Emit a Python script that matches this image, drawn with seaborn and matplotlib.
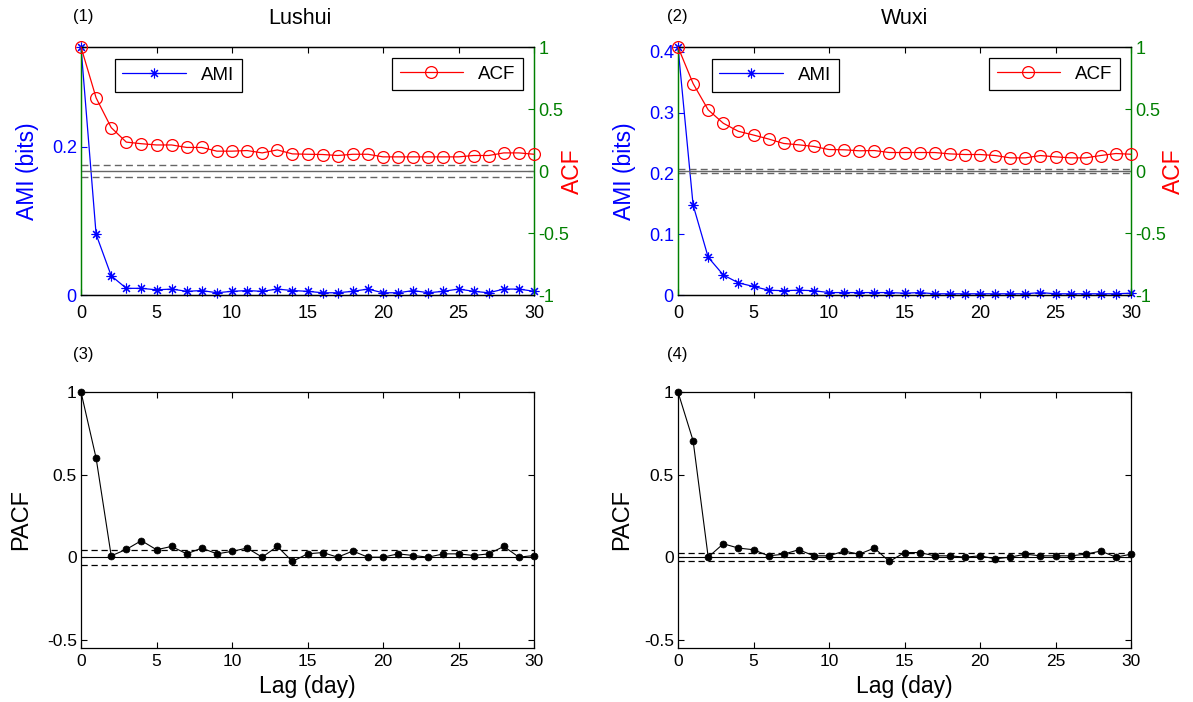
import matplotlib.pyplot as plt
import pandas as pd
import seaborn as sns
from matplotlib.ticker import FormatStrFormatter

# Data
lags = list(range(31))

lushui_ami = [0.335, 0.082, 0.026, 0.009, 0.009, 0.007, 0.008, 0.005, 0.006, 0.003, 0.005,
              0.006, 0.005, 0.008, 0.006, 0.005, 0.003, 0.003, 0.005, 0.008, 0.003, 0.003,
              0.006, 0.003, 0.005, 0.008, 0.005, 0.003, 0.008, 0.008, 0.005]
lushui_acf = [1.0, 0.59, 0.35, 0.233, 0.22, 0.21, 0.21, 0.19, 0.19, 0.16, 0.16,
              0.165, 0.146, 0.17, 0.138, 0.135, 0.133, 0.125, 0.135, 0.135, 0.114, 0.114,
              0.114, 0.114, 0.114, 0.114, 0.125, 0.125, 0.146, 0.146, 0.135]
lushui_acf_sig = 0.049
lushui_pacf = [1.0, 0.60, 0.008, 0.047, 0.10, 0.045, 0.065, 0.02, 0.055, 0.02, 0.035,
               0.055, 0.0, 0.065, -0.026, 0.02, 0.028, 0.0, 0.037, 0.0, 0.0, 0.02,
               0.01, 0.0, 0.02, 0.02, 0.01, 0.02, 0.065, 0.0, 0.01]
lushui_pacf_sig = 0.046

wuxi_ami = [0.408, 0.148, 0.062, 0.033, 0.020, 0.014, 0.008, 0.007, 0.008, 0.007, 0.004,
            0.004, 0.004, 0.004, 0.004, 0.003, 0.004, 0.002, 0.002, 0.002, 0.002, 0.002,
            0.002, 0.002, 0.004, 0.002, 0.002, 0.002, 0.002, 0.002, 0.003]
wuxi_acf = [1.0, 0.705, 0.493, 0.385, 0.32, 0.29, 0.258, 0.222, 0.211, 0.198, 0.173,
            0.171, 0.163, 0.165, 0.149, 0.149, 0.149, 0.149, 0.138, 0.133, 0.133, 0.125,
            0.106, 0.106, 0.125, 0.114, 0.106, 0.106, 0.125, 0.141, 0.135]
wuxi_acf_sig = 0.019
wuxi_pacf = [1.0, 0.705, 0.0, 0.081, 0.055, 0.045, 0.008, 0.018, 0.045, 0.008, 0.008,
             0.037, 0.018, 0.055, -0.026, 0.028, 0.028, 0.008, 0.008, 0.0, 0.008, -0.01,
             0.0, 0.018, 0.008, 0.008, 0.008, 0.018, 0.037, 0.0, 0.018]
wuxi_pacf_sig = 0.023

sites = ['Lushui', 'Wuxi']
ami_top = [0.335, 0.408]
ami_ticks = [[0, 0.2], [0, 0.1, 0.2, 0.3, 0.4]]
acf_ticks = [-1, -0.5, 0, 0.5, 1]
pacf_ticks = [-0.5, 0, 0.5, 1]
x_ticks = [0, 5, 10, 15, 20, 25, 30]

sns.set_style('ticks', {'xtick.direction': 'in', 'ytick.direction': 'in'})
plt.rcParams['font.family'] = ['Liberation Sans', 'DejaVu Sans']
plt.rcParams['text.color'] = 'black'
plt.rcParams['axes.labelcolor'] = 'black'
plt.rcParams['xtick.color'] = 'black'
plt.rcParams['ytick.color'] = 'black'

GREEN = (0, 0.5, 0)
W, H = 1193, 702

fig = plt.figure(figsize=(W / 100, H / 100), dpi=100)
col_x = [81 / W, 678 / W]
col_w = 453 / W
top_box = (1 - 295 / H, 248 / H)
bot_box = (1 - 648 / H, 256 / H)
title_x = [300 / W, 905 / W]
num_x = [83 / W, 677 / W]
acf_label_x = [1.06, 1.069]
pacf_label_x = [-0.108, -0.099]

top_data = [(lushui_ami, lushui_acf, lushui_acf_sig), (wuxi_ami, wuxi_acf, wuxi_acf_sig)]
bottom_data = [(lushui_pacf, lushui_pacf_sig), (wuxi_pacf, wuxi_pacf_sig)]

for i in range(2):
    ami, acf, sig = top_data[i]
    df = pd.DataFrame({'lag': lags, 'ami': ami, 'acf': acf})

    # Top row: AMI (left axis) and ACF (right axis)
    ax = fig.add_axes([col_x[i], top_box[0], col_w, top_box[1]])
    ax2 = ax.twinx()
    sns.lineplot(data=df, x='lag', y='ami', ax=ax, color='blue', lw=0.9,
                 marker=(8, 2, 0), markersize=7, markeredgecolor='blue',
                 markeredgewidth=0.8, label='AMI', legend=False, clip_on=False, zorder=3)
    ax2.axhline(0, color='0.4', lw=1)
    ax2.axhline(sig, color='0.4', lw=1, ls=(0, (5, 3)))
    ax2.axhline(-sig, color='0.4', lw=1, ls=(0, (5, 3)))
    sns.lineplot(data=df, x='lag', y='acf', ax=ax2, color='red', lw=0.9,
                 marker='o', markersize=8.5, markerfacecolor='none',
                 markeredgecolor='red', markeredgewidth=0.9, label='ACF', legend=False,
                 clip_on=False, zorder=3)

    ax.set_xlim(0, 30)
    ax.set_ylim(0, ami_top[i])
    ax2.set_ylim(-1, 1)
    ax.set_xticks(x_ticks)
    ax.set_yticks(ami_ticks[i])
    ax2.set_yticks(acf_ticks)
    ax.yaxis.set_major_formatter(FormatStrFormatter('%g'))
    ax2.yaxis.set_major_formatter(FormatStrFormatter('%g'))
    ax.tick_params(axis='x', top=True, colors='black', labelsize=13, length=4, pad=7)
    ax.tick_params(axis='y', colors='blue', labelsize=13, length=4, pad=3)
    ax2.tick_params(axis='y', colors=GREEN, labelsize=13, length=4, pad=3)
    ax.set_xlabel('')
    ax.set_ylabel('AMI (bits)', color='blue', fontsize=16.5)
    ax.yaxis.set_label_coords(-0.093, 0.5)
    ax2.set_ylabel('ACF', color='red', fontsize=16.5)
    ax2.yaxis.set_label_coords(acf_label_x[i], 0.5)
    for a in (ax, ax2):
        for s in a.spines.values():
            s.set_visible(True)
            s.set_linewidth(0.9)
        a.spines['top'].set_color('black')
        a.spines['bottom'].set_color('black')
        a.spines['left'].set_color(GREEN)
        a.spines['right'].set_color(GREEN)

    h_ami = ax.get_lines()[0]
    h_acf = ax2.get_lines()[-1]
    leg1 = ax2.legend([h_ami], ['AMI'], loc='upper left', bbox_to_anchor=(0.075, 0.95),
                      fancybox=False, edgecolor='black', framealpha=1, fontsize=13.5,
                      handlelength=3.4, borderpad=0.4, borderaxespad=0)
    leg1.get_frame().set_linewidth(0.9)
    ax2.add_artist(leg1)
    leg2 = ax2.legend([h_acf], ['ACF'], loc='upper right', bbox_to_anchor=(0.976, 0.955),
                      fancybox=False, edgecolor='black', framealpha=1, fontsize=13.5,
                      handlelength=3.4, borderpad=0.4, borderaxespad=0)
    leg2.get_frame().set_linewidth(0.9)

    fig.text(title_x[i], 1 - 18 / H, sites[i], fontsize=15.5, ha='center', va='center')
    fig.text(num_x[i], 1 - 17 / H, '(%d)' % (i + 1), fontsize=12, ha='center', va='center')

    # Bottom row: PACF
    pacf, psig = bottom_data[i]
    dfp = pd.DataFrame({'lag': lags, 'pacf': pacf})
    bx = fig.add_axes([col_x[i], bot_box[0], col_w, bot_box[1]])
    bx.axhline(0, color='black', lw=0.8)
    bx.axhline(psig, color='black', lw=0.9, ls=(0, (5, 3)))
    bx.axhline(-psig, color='black', lw=0.9, ls=(0, (5, 3)))
    sns.lineplot(data=dfp, x='lag', y='pacf', ax=bx, color='black', lw=0.8,
                 marker='o', markersize=5, markeredgecolor='black', markeredgewidth=0.5,
                 clip_on=False, zorder=3)
    bx.set_xlim(0, 30)
    bx.set_ylim(-0.55, 1)
    bx.set_xticks(x_ticks)
    bx.set_yticks(pacf_ticks)
    bx.yaxis.set_major_formatter(FormatStrFormatter('%g'))
    bx.tick_params(top=True, right=True, labelsize=12.5, length=4, colors='black')
    bx.tick_params(axis='y', pad=3)
    bx.tick_params(axis='x', pad=4)
    bx.set_xlabel('Lag (day)', fontsize=16.5, labelpad=5, color='black')
    bx.set_ylabel('PACF', fontsize=17, color='black')
    bx.yaxis.set_label_coords(pacf_label_x[i], 0.5)
    for s in bx.spines.values():
        s.set_visible(True)
        s.set_color('black')
        s.set_linewidth(0.9)
    fig.text(num_x[i], 1 - 355 / H, '(%d)' % (i + 3), fontsize=12, ha='center', va='center')

fig.savefig('out.png', dpi=100)
